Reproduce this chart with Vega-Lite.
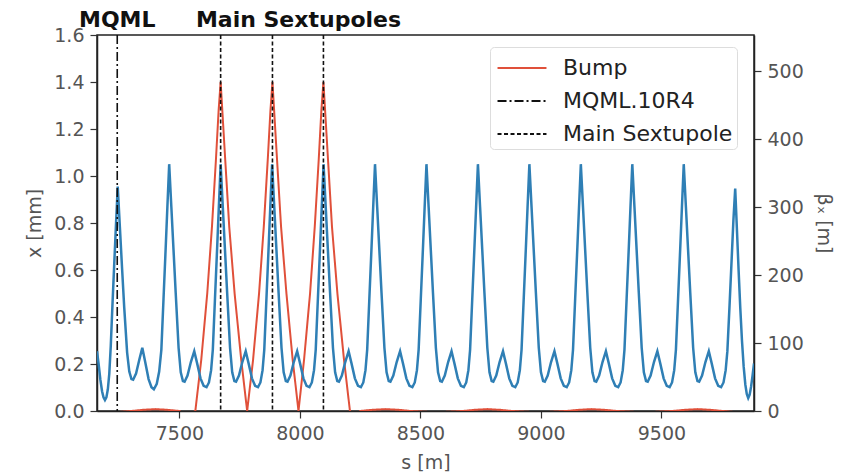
{
  "$schema": "https://vega.github.io/schema/vega-lite/v6.json",
  "width": 657,
  "height": 376,
  "autosize": {"type": "none"},
  "padding": {"left": 97, "top": 35, "right": 100, "bottom": 63},
  "background": "white",
  "config": {
    "font": "DejaVu Sans",
    "view": {"stroke": "#222", "strokeWidth": 1.5},
    "axis": {
      "grid": false,
      "domainColor": "#222",
      "domainWidth": 1.5,
      "tickColor": "#333",
      "tickSize": 7,
      "tickWidth": 1.2,
      "labelFontSize": 19,
      "labelColor": "#555",
      "labelPadding": 6,
      "titleFontSize": 19,
      "titleColor": "#555",
      "titleFontWeight": "normal"
    },
    "legend": {
      "orient": "none",
      "legendX": 393,
      "legendY": 12,
      "title": null,
      "labelFontSize": 22,
      "labelColor": "#222",
      "labelOffset": 24,
      "labelLimit": 400,
      "symbolSize": 1024,
      "symbolStrokeWidth": 2,
      "symbolType": "M-1.53,0H1.53",
      "symbolOffset": 11,
      "padding": 4,
      "rowPadding": 5,
      "fillColor": "white",
      "strokeColor": "#dddddd",
      "cornerRadius": 4
    }
  },
  "datasets": {
    "beta": [
      {"s":7158,"b":88},{"s":7165,"b":68},{"s":7172,"b":46},{"s":7179,"b":29},{"s":7185,"b":20},{"s":7191,"b":16},{"s":7197,"b":20},{"s":7203,"b":32},{"s":7209,"b":55},{"s":7215,"b":95},{"s":7222,"b":155},{"s":7229,"b":212},{"s":7236,"b":268},
      {"s":7244,"b":330},{"s":7253,"b":270},{"s":7262,"b":210},{"s":7271,"b":152},{"s":7283,"b":86},{"s":7292,"b":58},{"s":7301,"b":47},{"s":7308,"b":46},{"s":7320,"b":55},{"s":7334,"b":76},{"s":7346,"b":93},{"s":7358,"b":72},{"s":7372,"b":47},{"s":7384,"b":35},{"s":7394,"b":32},{"s":7406,"b":40},{"s":7416,"b":58},{"s":7425,"b":90},{"s":7434,"b":165},{"s":7443,"b":240},{"s":7450,"b":300},
      {"s":7457.5,"b":363},{"s":7466.5,"b":300},{"s":7475.5,"b":237},{"s":7484.5,"b":174},{"s":7496.5,"b":93},{"s":7505.5,"b":57},{"s":7514.5,"b":44},{"s":7521.5,"b":43},{"s":7533.5,"b":52},{"s":7547.5,"b":72},{"s":7561.5,"b":88},{"s":7573.5,"b":70},{"s":7587.5,"b":48},{"s":7600.5,"b":37},{"s":7612.5,"b":35},{"s":7622.5,"b":42},{"s":7631.5,"b":60},{"s":7638.5,"b":90},{"s":7647.5,"b":165},{"s":7656.5,"b":240},{"s":7663.5,"b":300},
      {"s":7671,"b":363},{"s":7680,"b":300},{"s":7689,"b":237},{"s":7698,"b":174},{"s":7710,"b":93},{"s":7719,"b":57},{"s":7728,"b":44},{"s":7735,"b":43},{"s":7747,"b":52},{"s":7761,"b":72},{"s":7775,"b":88},{"s":7787,"b":70},{"s":7801,"b":48},{"s":7814,"b":37},{"s":7826,"b":35},{"s":7836,"b":42},{"s":7845,"b":60},{"s":7852,"b":90},{"s":7861,"b":165},{"s":7870,"b":240},{"s":7877,"b":300},
      {"s":7884.5,"b":363},{"s":7893.5,"b":300},{"s":7902.5,"b":237},{"s":7911.5,"b":174},{"s":7923.5,"b":93},{"s":7932.5,"b":57},{"s":7941.5,"b":44},{"s":7948.5,"b":43},{"s":7960.5,"b":52},{"s":7974.5,"b":72},{"s":7988.5,"b":88},{"s":8000.5,"b":70},{"s":8014.5,"b":48},{"s":8027.5,"b":37},{"s":8039.5,"b":35},{"s":8049.5,"b":42},{"s":8058.5,"b":60},{"s":8065.5,"b":90},{"s":8074.5,"b":165},{"s":8083.5,"b":240},{"s":8090.5,"b":300},
      {"s":8098,"b":363},{"s":8107,"b":300},{"s":8116,"b":237},{"s":8125,"b":174},{"s":8137,"b":93},{"s":8146,"b":57},{"s":8155,"b":44},{"s":8162,"b":43},{"s":8174,"b":52},{"s":8188,"b":72},{"s":8202,"b":88},{"s":8214,"b":70},{"s":8228,"b":48},{"s":8241,"b":37},{"s":8253,"b":35},{"s":8263,"b":42},{"s":8272,"b":60},{"s":8279,"b":90},{"s":8288,"b":165},{"s":8297,"b":240},{"s":8304,"b":300},
      {"s":8311.5,"b":363},{"s":8320.5,"b":300},{"s":8329.5,"b":237},{"s":8338.5,"b":174},{"s":8350.5,"b":93},{"s":8359.5,"b":57},{"s":8368.5,"b":44},{"s":8375.5,"b":43},{"s":8387.5,"b":52},{"s":8401.5,"b":72},{"s":8415.5,"b":88},{"s":8427.5,"b":70},{"s":8441.5,"b":48},{"s":8454.5,"b":37},{"s":8466.5,"b":35},{"s":8476.5,"b":42},{"s":8485.5,"b":60},{"s":8492.5,"b":90},{"s":8501.5,"b":165},{"s":8510.5,"b":240},{"s":8517.5,"b":300},
      {"s":8525,"b":363},{"s":8534,"b":300},{"s":8543,"b":237},{"s":8552,"b":174},{"s":8564,"b":93},{"s":8573,"b":57},{"s":8582,"b":44},{"s":8589,"b":43},{"s":8601,"b":52},{"s":8615,"b":72},{"s":8629,"b":88},{"s":8641,"b":70},{"s":8655,"b":48},{"s":8668,"b":37},{"s":8680,"b":35},{"s":8690,"b":42},{"s":8699,"b":60},{"s":8706,"b":90},{"s":8715,"b":165},{"s":8724,"b":240},{"s":8731,"b":300},
      {"s":8738.5,"b":363},{"s":8747.5,"b":300},{"s":8756.5,"b":237},{"s":8765.5,"b":174},{"s":8777.5,"b":93},{"s":8786.5,"b":57},{"s":8795.5,"b":44},{"s":8802.5,"b":43},{"s":8814.5,"b":52},{"s":8828.5,"b":72},{"s":8842.5,"b":88},{"s":8854.5,"b":70},{"s":8868.5,"b":48},{"s":8881.5,"b":37},{"s":8893.5,"b":35},{"s":8903.5,"b":42},{"s":8912.5,"b":60},{"s":8919.5,"b":90},{"s":8928.5,"b":165},{"s":8937.5,"b":240},{"s":8944.5,"b":300},
      {"s":8952,"b":363},{"s":8961,"b":300},{"s":8970,"b":237},{"s":8979,"b":174},{"s":8991,"b":93},{"s":9000,"b":57},{"s":9009,"b":44},{"s":9016,"b":43},{"s":9028,"b":52},{"s":9042,"b":72},{"s":9056,"b":88},{"s":9068,"b":70},{"s":9082,"b":48},{"s":9095,"b":37},{"s":9107,"b":35},{"s":9117,"b":42},{"s":9126,"b":60},{"s":9133,"b":90},{"s":9142,"b":165},{"s":9151,"b":240},{"s":9158,"b":300},
      {"s":9165.5,"b":363},{"s":9174.5,"b":300},{"s":9183.5,"b":237},{"s":9192.5,"b":174},{"s":9204.5,"b":93},{"s":9213.5,"b":57},{"s":9222.5,"b":44},{"s":9229.5,"b":43},{"s":9241.5,"b":52},{"s":9255.5,"b":72},{"s":9269.5,"b":88},{"s":9281.5,"b":70},{"s":9295.5,"b":48},{"s":9308.5,"b":37},{"s":9320.5,"b":35},{"s":9330.5,"b":42},{"s":9339.5,"b":60},{"s":9346.5,"b":90},{"s":9355.5,"b":165},{"s":9364.5,"b":240},{"s":9371.5,"b":300},
      {"s":9379,"b":363},{"s":9388,"b":300},{"s":9397,"b":237},{"s":9406,"b":174},{"s":9418,"b":93},{"s":9427,"b":57},{"s":9436,"b":44},{"s":9443,"b":43},{"s":9455,"b":52},{"s":9469,"b":72},{"s":9483,"b":88},{"s":9495,"b":70},{"s":9509,"b":48},{"s":9522,"b":37},{"s":9534,"b":35},{"s":9544,"b":42},{"s":9553,"b":60},{"s":9560,"b":90},{"s":9569,"b":165},{"s":9578,"b":240},{"s":9585,"b":300},
      {"s":9592.5,"b":363},{"s":9601.5,"b":300},{"s":9610.5,"b":237},{"s":9619.5,"b":174},{"s":9631.5,"b":93},{"s":9640.5,"b":57},{"s":9649.5,"b":44},{"s":9656.5,"b":43},{"s":9668.5,"b":52},{"s":9682.5,"b":72},{"s":9696.5,"b":88},{"s":9708.5,"b":70},{"s":9722.5,"b":48},{"s":9735.5,"b":37},{"s":9747.5,"b":35},{"s":9757.5,"b":42},{"s":9766.5,"b":60},{"s":9773.5,"b":88},{"s":9782.5,"b":155},{"s":9791.5,"b":225},{"s":9798.5,"b":280},
      {"s":9806,"b":327},{"s":9813,"b":268},{"s":9820,"b":208},{"s":9827,"b":152},{"s":9834,"b":104},{"s":9841,"b":66},{"s":9848,"b":39},{"s":9854,"b":25},{"s":9860,"b":19},{"s":9866,"b":24},{"s":9872,"b":36},{"s":9878,"b":52},{"s":9884,"b":70}
    ],
    "bump": [
      {"s":7158,"x":-0.004},{"s":7250,"x":-0.004},{"s":7300,"x":0.0},{"s":7350,"x":0.005},{"s":7400,"x":0.008},{"s":7450,"x":0.005},{"s":7500,"x":0.0},{"s":7530,"x":-0.02},{"s":7566,"x":0.0},
      {"s":7590.5,"x":0.217},{"s":7615.4,"x":0.5},{"s":7635,"x":0.784},{"s":7651.5,"x":1.07},{"s":7662.7,"x":1.28},{"s":7671,"x":1.4},{"s":7690,"x":1.07},{"s":7706.7,"x":0.784},{"s":7729,"x":0.5},{"s":7756.5,"x":0.217},{"s":7781,"x":0.0},
      {"s":7805.5,"x":0.217},{"s":7830.4,"x":0.5},{"s":7850,"x":0.784},{"s":7866.5,"x":1.07},{"s":7877.7,"x":1.28},{"s":7886,"x":1.4},{"s":7905,"x":1.07},{"s":7921.7,"x":0.784},{"s":7944,"x":0.5},{"s":7970,"x":0.217},{"s":7994,"x":0.0},
      {"s":8017,"x":0.217},{"s":8042,"x":0.5},{"s":8061.5,"x":0.784},{"s":8078,"x":1.07},{"s":8089,"x":1.28},{"s":8097.5,"x":1.4},{"s":8116.5,"x":1.07},{"s":8133,"x":0.784},{"s":8155.5,"x":0.5},{"s":8183,"x":0.217},{"s":8207.5,"x":0.0},
      {"s":8228,"x":-0.02},{"s":8250,"x":0.0},{"s":8300,"x":0.005},{"s":8355,"x":0.008},{"s":8410,"x":0.005},{"s":8460,"x":0.0},{"s":8567,"x":-0.006},
      {"s":8675,"x":0.0},{"s":8725,"x":0.005},{"s":8778,"x":0.008},{"s":8830,"x":0.005},{"s":8880,"x":0.0},{"s":8992,"x":-0.006},
      {"s":9105,"x":0.0},{"s":9157,"x":0.005},{"s":9210,"x":0.008},{"s":9263,"x":0.005},{"s":9315,"x":0.0},{"s":9430,"x":-0.006},
      {"s":9545,"x":0.0},{"s":9597,"x":0.005},{"s":9650,"x":0.008},{"s":9703,"x":0.005},{"s":9755,"x":0.0},{"s":9820,"x":-0.006},{"s":9884,"x":-0.004}
    ],
    "lines": [
      {"s":7242,"series":"MQML.10R4"},
      {"s":7671,"series":"Main Sextupole"},
      {"s":7886,"series":"Main Sextupole"},
      {"s":8097.5,"series":"Main Sextupole"}
    ],
    "labels": [
      {"s":7242,"label":"MQML"},
      {"s":7994,"label":"Main Sextupoles"}
    ]
  },
  "layer": [
    {
      "data": {"name": "bump"},
      "mark": {"type": "line", "strokeWidth": 2, "clip": true},
      "encoding": {
        "x": {"field": "s", "type": "quantitative", "scale": {"domain": [7158, 9884], "nice": false, "zero": false},
              "axis": {"title": "s [m]", "values": [7500, 8000, 8500, 9000, 9500], "format": "d", "titlePadding": 10}},
        "y": {"field": "x", "type": "quantitative", "scale": {"domain": [0, 1.6], "nice": false},
              "axis": {"orient": "left", "title": "x [mm]", "values": [0, 0.2, 0.4, 0.6, 0.8, 1.0, 1.2, 1.4, 1.6], "format": ".1f", "titlePadding": 9}},
        "color": {"datum": "Bump", "type": "nominal",
                  "scale": {"domain": ["Bump", "MQML.10R4", "Main Sextupole"], "range": ["#e0503a", "#111111", "#111111"]}},
        "strokeDash": {"datum": "Bump", "type": "nominal",
                  "scale": {"domain": ["Bump", "MQML.10R4", "Main Sextupole"], "range": [[1, 0], [9, 3, 2, 3], [4, 2.5]]}}
      }
    },
    {
      "data": {"name": "beta"},
      "mark": {"type": "line", "strokeWidth": 2.5, "color": "#2f7fb5", "clip": true},
      "encoding": {
        "x": {"field": "s", "type": "quantitative"},
        "y": {"field": "b", "type": "quantitative", "scale": {"domain": [0, 553], "nice": false},
              "axis": {"orient": "right", "title": "βₓ [m]", "values": [0, 100, 200, 300, 400, 500], "titlePadding": 10}}
      }
    },
    {
      "data": {"name": "lines"},
      "mark": {"type": "rule", "strokeWidth": 1.6},
      "encoding": {
        "x": {"field": "s", "type": "quantitative"},
        "color": {"field": "series", "type": "nominal"},
        "strokeDash": {"field": "series", "type": "nominal"}
      }
    },
    {
      "data": {"name": "labels"},
      "mark": {"type": "text", "fontSize": 22, "fontWeight": "bold", "color": "#111", "align": "center", "baseline": "alphabetic"},
      "encoding": {
        "x": {"field": "s", "type": "quantitative"},
        "y": {"datum": 1.636, "type": "quantitative", "scale": {"domain": [0, 1.6], "nice": false}, "axis": null},
        "text": {"field": "label"}
      }
    }
  ],
  "resolve": {"scale": {"y": "independent"}, "axis": {"y": "independent"}}
}
